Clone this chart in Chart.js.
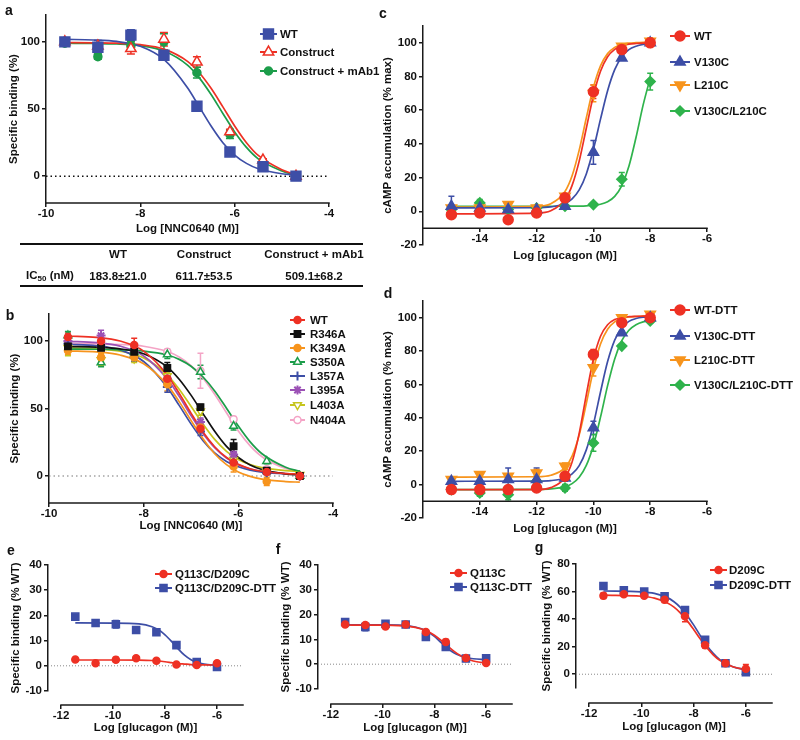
<!DOCTYPE html>
<html>
<head>
<meta charset="utf-8">
<script src="https://cdn.jsdelivr.net/npm/chart.js@4.4.1/dist/chart.umd.min.js"></script>
<style>
  html, body { margin: 0; padding: 0; background: #fff; }
  #fig { position: relative; width: 800px; height: 740px; overflow: hidden;
         font-family: "Liberation Sans", Arial, sans-serif; font-weight: bold; color: #111; }
  #fig canvas { position: absolute; }
  .lt { position: absolute; font-size: 14px; transform: translate(-50%, -50%); }
  .rule { position: absolute; left: 20px; width: 343px; border-top: 2px solid #111; }
  .tc { position: absolute; font-size: 11.5px; transform: translate(-50%, -50%); white-space: nowrap; }
  .tc sub { font-size: 8px; vertical-align: -2px; }
</style>
</head>
<body>
<div id="fig">
  <canvas id="ca" width="400" height="245" style="left:0;top:0"></canvas>
  <canvas id="cb" width="400" height="240" style="left:0;top:300px"></canvas>
  <canvas id="cc" width="430" height="270" style="left:370px;top:0"></canvas>
  <canvas id="cd" width="430" height="270" style="left:370px;top:280px"></canvas>
  <canvas id="ce" width="290" height="185" style="left:0;top:555px"></canvas>
  <canvas id="cf" width="280" height="185" style="left:270px;top:555px"></canvas>
  <canvas id="cg" width="272" height="185" style="left:528px;top:555px"></canvas>

  <div class="lt" style="left:9px;top:10px">a</div>
  <div class="lt" style="left:10px;top:315px">b</div>
  <div class="lt" style="left:383px;top:13px">c</div>
  <div class="lt" style="left:388px;top:293px">d</div>
  <div class="lt" style="left:11px;top:550px">e</div>
  <div class="lt" style="left:278px;top:549px">f</div>
  <div class="lt" style="left:539px;top:547px">g</div>

  <div class="rule" style="top:243px"></div>
  <div class="rule" style="top:285px"></div>
  <div id="tbl"></div>
</div>

<script>
// ---- data ----

// x values (log M) of the measured points
const logNNC = [-9.6, -8.9, -8.2, -7.5, -6.8, -6.1, -5.4, -4.7];
const logGcgC = [-15, -14, -13, -12, -11, -10, -9, -8];
const logGcgE = [-11.45, -10.67, -9.89, -9.11, -8.33, -7.56, -6.78, -6.0];

// x positions where the fitted curves were read
const fitA = [-9.6, -9, -8.5, -8, -7.5, -7, -6.75, -6.5, -6.25, -6, -5.75, -5.5, -5, -4.7];
const fitB = [-9.6, -9, -8.5, -8, -7.5, -7.25, -7, -6.75, -6.5, -6.25, -6, -5.75, -5.5, -5, -4.7];
const fitC = [-15, -12, -11.5, -11, -10.75, -10.5, -10.25, -10, -9.75, -9.5, -9.25, -9, -8.75, -8.5, -8.25, -8];
const fitE = [-11.45, -10, -9, -8.5, -8.25, -8, -7.75, -7.5, -7.25, -7, -6.75, -6.5, -6];
const fitG = [-11.45, -10, -9.5, -9, -8.75, -8.5, -8.25, -8, -7.75, -7.5, -7.25, -7, -6.5, -6];

// panel a
const aWT = [100, 96, 105, 90, 52, 18, 7, 0];
const aWTErr = [1, 5, 4, 2, 3, 1, 1, 0.5];
const aCon = [100, 97, 95, 102, 85, 33, 12, 0];
const aConErr = [1, 2, 4, 5, 4, 2, 1, 0.5];
const aMab = [99, 89, 97, 100, 77, 31, 8, 0];
const aMabErr = [1, 2, 3, 6, 4, 3, 1, 0.5];
const aWTFit = [101.9, 101.4, 100.3, 96.7, 86.9, 65.8, 51.6, 37.3, 24.9, 15.7, 9.5, 5.5, 1.8, 0.9];
const aConFit = [99.5, 99.3, 99.0, 97.9, 94.6, 85.5, 77.0, 65.4, 51.6, 37.4, 24.9, 15.4, 4.8, 1.0];
const aMabFit = [99, 98.8, 98.4, 97.1, 93.2, 82.7, 73.2, 60.8, 46.7, 32.9, 21.4, 12.9, 3.9, 0.6];

// table under panel a
const tableCols = ['WT', 'Construct', 'Construct + mAb1'];
const tableIC50 = ['183.8±21.0', '611.7±53.5', '509.1±68.2'];

// panel b
const bNames = ['WT', 'R346A', 'K349A', 'S350A', 'L357A', 'L395A', 'L403A', 'N404A'];
const bWT = [103, 100, 97, 72, 35, 10, 3, 0];
const bR346A = [96, 95, 92, 80, 51, 22, 4, 0];
const bK349A = [93, 88, 88, 68, 36, 7, -4, 0];
const bS350A = [104, 84, 92, 90, 77, 37, 11, 0];
const bL357A = [98, 96, 88, 66, 33, 10, 2, 0];
const bL395A = [100, 104, 92, 72, 40, 16, 3, 0];
const bL403A = [95, 86, 87, 74, 48, 12, 3, 1];
const bN404A = [99, 98, 96, 92, 78, 42, 5, 0];
const bWTErr = [3, 3, 5, 4, 3, 2, 1, 1];
const bR346AErr = [2, 2, 2, 4, 2, 5, 1, 1];
const bK349AErr = [3, 3, 3, 5, 3, 4, 3, 1];
const bS350AErr = [3, 3, 2, 3, 5, 3, 2, 1];
const bL357AErr = [2, 3, 3, 4, 3, 2, 1, 1];
const bL395AErr = [2, 4, 2, 3, 3, 2, 1, 1];
const bL403AErr = [6, 4, 3, 3, 3, 2, 1, 1];
const bN404AErr = [2, 2, 2, 2, 13, 2, 1, 1];
const bWTFit = [103.7, 102.7, 100, 92.5, 74.7, 61.3, 46.6, 32.8, 21.7, 13.7, 8.6, 5.4, 3.5, 1.8, 1.4];
const bR346AFit = [95.9, 95.4, 94.2, 90.6, 80.7, 71.7, 59.9, 46.4, 33.1, 21.9, 13.7, 8.2, 4.8, 1.6, 0.8];
const bK349AFit = [92.7, 91.9, 89.6, 83.1, 67.3, 55.1, 41.2, 27.7, 16.5, 8.4, 3.0, -0.3, -2.3, -4.1, -4.6];
const bS350AFit = [94, 93.9, 93.5, 92.5, 89.6, 86.4, 81.3, 73.5, 63, 50.2, 37.0, 25.3, 16.5, 6.5, 3.4];
const bL357AFit = [97.6, 96.5, 93.4, 84.8, 65.6, 52.3, 38.6, 26.4, 17.1, 10.8, 6.8, 4.3, 2.9, 1.6, 1.3];
const bL395AFit = [99.7, 98.8, 96.2, 88.9, 71.8, 59.0, 44.8, 31.6, 20.9, 13.3, 8.3, 5.2, 3.4, 1.8, 1.4];
const bL403AFit = [94.8, 94.2, 92.5, 87.5, 74.8, 64.3, 51.6, 38.7, 27.1, 18.3, 12.3, 8.5, 6.2, 4.0, 3.5];
const bN404AFit = [98, 97.8, 97.4, 96.1, 92.2, 88.2, 81.8, 72.6, 60.5, 46.8, 33.3, 22.3, 14.3, 5.6, 3.4];

// panel c
const cWT = [-2, -1, -5, -1, 8, 71, 96, 100];
const cV130C = [3, 2, 1, 1, 3, 35, 91, 100];
const cL210C = [2, 2, 4, 2, 9, 70, 98, 101];
const cDouble = [1, 5, 1, 2, 3, 4, 19, 77];
const cWTErr = [2, 2, 1, 1, 1, 4, 1, 1];
const cV130CErr = [6, 2, 2, 2, 1, 7, 1, 1];
const cL210CErr = [1, 1, 1, 1, 1, 5, 1, 2];
const cDoubleErr = [1, 2, 1, 1, 1, 1, 4, 5];
const cWTFit = [-1.5, -1.1, 0.3, 6.8, 15.4, 29.8, 49.3, 68.6, 83.1, 91.7, 96.1, 98.2, 99.2, 99.6, 99.8, 99.9];
const cV130CFit = [2, 2.1, 2.6, 4.6, 7.4, 12.7, 22.2, 36.8, 54.7, 71.6, 84.1, 91.8, 96.0, 98.0, 99.1, 99.6];
const cL210CFit = [2.5, 2.9, 4.5, 11.8, 21.1, 36.3, 55.4, 73.5, 86.3, 93.6, 97.3, 99.0, 99.8, 100.1, 100.3, 100.4];
const cDoubleFit = [3, 3, 3, 3, 3.05, 3.1, 3.25, 3.6, 4.2, 5.7, 8.9, 15.3, 26.7, 43.8, 63, 79.1];

// panel d
const dWT = [-3, -3, -3, -2, 5, 78, 97, 100];
const dV130C = [2, 2, 3, 3, 4, 34, 91, 100];
const dL210C = [3, 6, 5, 7, 11, 70, 100, 102];
const dDouble = [-3, -5, -6, 2, -2, 25, 83, 98];
const dWTErr = [1, 1, 1, 2, 2, 3, 1, 1];
const dV130CErr = [1, 1, 7, 7, 2, 4, 1, 1];
const dL210CErr = [1, 1, 1, 2, 2, 5, 1, 1];
const dDoubleErr = [1, 2, 3, 3, 2, 5, 1, 1];
const dWTFit = [-3, -3, -1.8, 4.3, 13.6, 30.7, 53.8, 75.1, 88.9, 95.8, 98.9, 100.1, 100.6, 100.8, 100.9, 101];
const dV130CFit = [2, 2.1, 2.4, 4.0, 6.4, 11.4, 20.8, 36.1, 55.5, 73.7, 86.6, 94, 97.8, 99.5, 100.3, 100.6];
const dL210CFit = [4.5, 4.7, 5.6, 10.2, 17.1, 29.8, 48.6, 68.8, 84.2, 93.1, 97.5, 99.5, 100.4, 100.7, 100.9, 101];
const dDoubleFit = [-3, -2.9, -2.6, -1.2, 0.6, 4.4, 11.5, 23.5, 40.4, 59.3, 75.3, 86.2, 92.5, 95.8, 97.5, 98.3];

// panel e
const eOx = [2.5, 1, 2.4, 3, 2, 0.5, 0.3, 1];
const eOxErr = [0.3, 0.3, 1, 0.3, 0.3, 0.3, 0.3, 0.5];
const eDtt = [19.5, 17, 16.5, 14.2, 13.3, 8.2, 1.5, -0.5];
const eDttErr = [0.3, 0.5, 1.5, 0.3, 0.5, 1, 0.3, 0.3];
const eOxFit = [2.3, 2.3, 2.25, 2.1, 1.9, 1.6, 1.25, 0.9, 0.7, 0.5, 0.4, 0.35, 0.3];
const eDttFit = [17, 16.97, 16.6, 15.5, 14.3, 12.3, 9.7, 6.8, 4.2, 2.4, 1.3, 0.68, 0.18];

// panel f
const fOx = [16, 15.8, 15.2, 16, 13, 9, 2.5, 0.5];
const fOxErr = [0.5, 0.8, 0.8, 0.5, 0.8, 1, 0.3, 0.3];
const fDtt = [17, 15, 16.3, 16, 11, 7, 2.3, 2.4];
const fDttErr = [1.2, 1.5, 1, 1, 1.2, 0.8, 0.3, 1];
const fOxFit = [15.8, 15.74, 15.26, 14.2, 13.2, 11.7, 9.7, 7.45, 5.3, 3.5, 2.2, 1.3, 0.43];
const fDttFit = [15.9, 15.87, 15.47, 14.3, 13.1, 11.2, 8.85, 6.5, 4.6, 3.4, 2.6, 2.2, 1.9];

// panel g
const gOx = [57, 58, 57, 54, 42, 21, 8, 4];
const gOxErr = [2, 1, 1, 2, 4, 2, 1, 3];
const gDtt = [64, 61, 60, 56.5, 46.5, 25, 8, 1.5];
const gDttErr = [1, 1, 1, 1, 1.5, 2, 0.5, 1.5];
const gOxFit = [57.45, 56.6, 55.2, 51.7, 48.7, 44.4, 38.9, 32.5, 25.7, 19.4, 14.1, 10.1, 5.4, 3.3];
const gDttFit = [60.4, 59.8, 58.7, 55.6, 52.6, 48.4, 42.7, 35.8, 28.2, 21.1, 15.1, 10.6, 5.4, 3.2];

// tick labels
const xTicksNNC = [-10, -8, -6, -4];
const yTicksBind = [0, 50, 100];
const xTicksGcg = [-14, -12, -10, -8, -6];
const yTicksCamp = [-20, 0, 20, 40, 60, 80, 100];
const xTicksE = [-12, -10, -8, -6];
const yTicksE = [-10, 0, 10, 20, 30, 40];
const yTicksG = [0, 20, 40, 60, 80];

// ---- styling ----
Chart.defaults.font.family = 'Liberation Sans, Arial, sans-serif';
Chart.defaults.font.weight = 'bold';
Chart.defaults.color = '#111';
const FONT = { size: 11.5, weight: 'bold' };
const LEGEND_FONT = 'bold 11.5px "Liberation Sans", Arial, sans-serif';
const AXIS = '#1a1a1a';

const RED = '#ee3124', BLUE = '#3d4ea6', GREEN = '#1c9d4a', ORANGE = '#f7941d', LGREEN = '#2fb34c';
const BLACK = '#111111', PURPLE = '#9b51b5', YELLOW = '#c6c51d', PINK = '#f4a4c6';

// table
const colX = [118, 204, 314];
const tbl = document.getElementById('tbl');
tableCols.forEach((t, i) => {
  tbl.insertAdjacentHTML('beforeend', `<div class="tc" style="left:${colX[i]}px;top:254px">${t}</div>`);
  tbl.insertAdjacentHTML('beforeend', `<div class="tc" style="left:${colX[i]}px;top:276px">${tableIC50[i]}</div>`);
});
tbl.insertAdjacentHTML('beforeend', '<div class="tc" style="left:50px;top:276px">IC<sub>50</sub> (nM)</div>');

function pts(xs, ys) {
  return xs.map((x, i) => ({ x: x, y: ys[i] }));
}

// one fitted curve + its measured points
function series(label, color, shape, px, py, err, cx, cy) {
  return [
    { label: label + ' fit', data: pts(cx, cy), showLine: true, borderColor: color, borderWidth: 1.7,
      pointRadius: 0, cubicInterpolationMode: 'monotone', fill: false, order: 2 },
    { label: label, data: pts(px, py), err: err, showLine: false, pointStyle: shape.style,
      pointRadius: shape.r, pointRotation: shape.rot || 0,
      pointBackgroundColor: shape.open ? '#ffffff' : color, pointBorderColor: color,
      pointBorderWidth: shape.bw || 1.5, borderColor: color, backgroundColor: color, order: 1 }
  ];
}

// axis line, zero line, error bars and legend, Prism style
const prism = {
  id: 'prism',
  beforeDatasetsDraw(chart, args, o) {
    const ctx = chart.ctx, xs = chart.scales.x, ys = chart.scales.y;
    ctx.save();
    if (o.zero) {
      ctx.strokeStyle = o.zero.color;
      ctx.lineWidth = o.zero.width;
      ctx.setLineDash(o.zero.dash);
      const y0 = ys.getPixelForValue(0);
      ctx.beginPath();
      ctx.moveTo(xs.getPixelForValue(o.zero.from), y0);
      ctx.lineTo(xs.getPixelForValue(o.zero.to), y0);
      ctx.stroke();
      ctx.setLineDash([]);
    }
    chart.data.datasets.forEach(ds => {
      if (!ds.err) return;
      ctx.strokeStyle = ds.pointBorderColor;
      ctx.lineWidth = 1.5;
      ds.data.forEach((p, i) => {
        const e = ds.err[i];
        if (!e) return;
        const px = xs.getPixelForValue(p.x);
        const y1 = ys.getPixelForValue(p.y - e), y2 = ys.getPixelForValue(p.y + e);
        ctx.beginPath();
        ctx.moveTo(px, y1); ctx.lineTo(px, y2);
        ctx.moveTo(px - o.cap, y1); ctx.lineTo(px + o.cap, y1);
        ctx.moveTo(px - o.cap, y2); ctx.lineTo(px + o.cap, y2);
        ctx.stroke();
      });
    });
    ctx.restore();
  },
  afterDraw(chart, args, o) {
    const ctx = chart.ctx, xs = chart.scales.x, ys = chart.scales.y;
    ctx.save();
    // x axis line
    const ya = ys.getPixelForValue(o.xAt);
    ctx.strokeStyle = AXIS;
    ctx.lineWidth = 1.5;
    ctx.beginPath();
    ctx.moveTo(xs.getPixelForValue(o.xLine[0]) - 0.75, ya);
    ctx.lineTo(xs.getPixelForValue(o.xLine[1]) + 0.75, ya);
    ctx.stroke();
    // legend: line with marker in the middle, then the name
    const lg = o.legend;
    lg.ys.forEach((y, k) => {
      const ds = chart.data.datasets[2 * k + 1];
      ctx.strokeStyle = ds.pointBorderColor;
      ctx.lineWidth = 2;
      ctx.beginPath();
      ctx.moveTo(lg.x0, y); ctx.lineTo(lg.x1, y);
      ctx.stroke();
      ctx.fillStyle = ds.pointBackgroundColor;
      ctx.lineWidth = ds.pointBorderWidth;
      Chart.helpers.drawPoint(ctx, { pointStyle: ds.pointStyle, rotation: ds.pointRotation,
        radius: ds.pointRadius, borderWidth: ds.pointBorderWidth }, (lg.x0 + lg.x1) / 2, y);
      ctx.fillStyle = '#111';
      ctx.font = LEGEND_FONT;
      ctx.textAlign = 'left';
      ctx.textBaseline = 'middle';
      ctx.fillText(ds.label, lg.tx, y + 0.5);
    });
    ctx.restore();
  }
};

function makePanel(id, P) {
  return new Chart(document.getElementById(id), {
    type: 'scatter',
    data: { datasets: P.datasets },
    plugins: [prism],
    options: {
      responsive: false,
      animation: false,
      devicePixelRatio: 1,
      layout: { padding: P.pad },
      plugins: {
        legend: { display: false },
        tooltip: { enabled: false },
        prism: { xAt: P.xAt, xLine: P.xLine, zero: P.zero, legend: P.legend, cap: P.cap }
      },
      scales: {
        x: {
          type: 'linear', position: { y: P.xAt }, min: P.xMin, max: P.xMax,
          afterBuildTicks: s => { s.ticks = P.xTicks.map(v => ({ value: v })); },
          afterFit: s => { s.height = P.xH; },
          grid: { drawOnChartArea: false, tickLength: 4, color: AXIS, lineWidth: 1.5 },
          border: { display: false },
          ticks: { font: FONT, color: '#111', padding: 0, maxRotation: 0, autoSkip: false },
          title: { display: true, text: P.xTitle, font: FONT, color: '#111', padding: 0 }
        },
        y: {
          type: 'linear', position: 'left', min: P.yMin, max: P.yMax,
          afterBuildTicks: s => { s.ticks = P.yTicks.map(v => ({ value: v })); },
          afterFit: s => { s.width = P.yW; },
          grid: { drawOnChartArea: false, tickLength: 4, color: AXIS, lineWidth: 1.5 },
          border: { display: true, color: AXIS, width: 1.5 },
          ticks: { font: FONT, color: '#111', padding: 2 },
          title: { display: true, text: P.yTitle, font: FONT, color: '#111', padding: { top: P.yTitlePad, bottom: 0 } }
        }
      }
    }
  });
}

// a
makePanel('ca', {
  datasets: [].concat(
    series('WT', BLUE, { style: 'rect', r: 7 }, logNNC, aWT, aWTErr, fitA, aWTFit),
    series('Construct', RED, { style: 'triangle', r: 6, open: true }, logNNC, aCon, aConErr, fitA, aConFit),
    series('Construct + mAb1', GREEN, { style: 'circle', r: 4 }, logNNC, aMab, aMabErr, fitA, aMabFit)
  ),
  pad: { left: 0, top: 15, right: 71, bottom: 42 }, yW: 46, yTitlePad: 7, xH: 33,
  xMin: -10, xMax: -4, yMin: -20, yMax: 120, xAt: -20, xLine: [-10, -4],
  xTicks: xTicksNNC, yTicks: yTicksBind, cap: 4,
  xTitle: 'Log [NNC0640 (M)]', yTitle: 'Specific binding (%)',
  zero: { from: -10, to: -4, color: '#111', width: 1.5, dash: [1.5, 3] },
  legend: { x0: 260, x1: 277, tx: 280, ys: [34, 52, 71] }
});

// b
makePanel('cb', {
  datasets: [].concat(
    series(bNames[0], RED, { style: 'circle', r: 3.5 }, logNNC, bWT, bWTErr, fitB, bWTFit),
    series(bNames[1], BLACK, { style: 'rect', r: 4.5 }, logNNC, bR346A, bR346AErr, fitB, bR346AFit),
    series(bNames[2], ORANGE, { style: 'circle', r: 3.5 }, logNNC, bK349A, bK349AErr, fitB, bK349AFit),
    series(bNames[3], GREEN, { style: 'triangle', r: 4.5, open: true }, logNNC, bS350A, bS350AErr, fitB, bS350AFit),
    series(bNames[4], BLUE, { style: 'cross', r: 4.5, bw: 2 }, logNNC, bL357A, bL357AErr, fitB, bL357AFit),
    series(bNames[5], PURPLE, { style: 'star', r: 4.5, bw: 2 }, logNNC, bL395A, bL395AErr, fitB, bL395AFit),
    series(bNames[6], YELLOW, { style: 'triangle', r: 4.5, open: true, rot: 180 }, logNNC, bL403A, bL403AErr, fitB, bL403AFit),
    series(bNames[7], PINK, { style: 'circle', r: 3.5, open: true }, logNNC, bN404A, bN404AErr, fitB, bN404AFit)
  ),
  pad: { left: 0, top: 14, right: 67, bottom: 37 }, yW: 49, yTitlePad: 8, xH: 30,
  xMin: -10, xMax: -4, yMin: -20, yMax: 120, xAt: -20, xLine: [-10, -4],
  xTicks: xTicksNNC, yTicks: yTicksBind, cap: 3,
  xTitle: 'Log [NNC0640 (M)]', yTitle: 'Specific binding (%)',
  zero: { from: -10, to: -4, color: '#777', width: 1.2, dash: [1.5, 3] },
  legend: { x0: 290, x1: 305, tx: 310, ys: [20, 34, 48, 62, 76, 90, 105, 120] }
});

// c
makePanel('cc', {
  datasets: [].concat(
    series('WT', RED, { style: 'circle', r: 5 }, logGcgC, cWT, cWTErr, fitC, cWTFit),
    series('V130C', BLUE, { style: 'triangle', r: 6 }, logGcgC, cV130C, cV130CErr, fitC, cV130CFit),
    series('L210C', ORANGE, { style: 'triangle', r: 6, rot: 180 }, logGcgC, cL210C, cL210CErr, fitC, cL210CFit),
    series('V130C/L210C', LGREEN, { style: 'rectRot', r: 5 }, logGcgC, cDouble, cDoubleErr, fitC, cDoubleFit)
  ),
  pad: { left: 0, top: 26, right: 93, bottom: 25 }, yW: 53, yTitlePad: 11, xH: 35,
  xMin: -16, xMax: -6, yMin: -20, yMax: 110, xAt: -10, xLine: [-16, -6],
  xTicks: xTicksGcg, yTicks: yTicksCamp, cap: 3,
  xTitle: 'Log [glucagon (M)]', yTitle: 'cAMP accumulation (% max)',
  legend: { x0: 300, x1: 320, tx: 324, ys: [36, 62, 85, 111] }
});

// d
makePanel('cd', {
  datasets: [].concat(
    series('WT-DTT', RED, { style: 'circle', r: 5 }, logGcgC, dWT, dWTErr, fitC, dWTFit),
    series('V130C-DTT', BLUE, { style: 'triangle', r: 6 }, logGcgC, dV130C, dV130CErr, fitC, dV130CFit),
    series('L210C-DTT', ORANGE, { style: 'triangle', r: 6, rot: 180 }, logGcgC, dL210C, dL210CErr, fitC, dL210CFit),
    series('V130C/L210C-DTT', LGREEN, { style: 'rectRot', r: 5 }, logGcgC, dDouble, dDoubleErr, fitC, dDoubleFit)
  ),
  pad: { left: 0, top: 21, right: 93, bottom: 32 }, yW: 53, yTitlePad: 11, xH: 34,
  xMin: -16, xMax: -6, yMin: -20, yMax: 110, xAt: -10, xLine: [-16, -6],
  xTicks: xTicksGcg, yTicks: yTicksCamp, cap: 3,
  xTitle: 'Log [glucagon (M)]', yTitle: 'cAMP accumulation (% max)',
  legend: { x0: 300, x1: 320, tx: 324, ys: [30, 56, 80, 105] }
});

// e
makePanel('ce', {
  datasets: [].concat(
    series('Q113C/D209C', RED, { style: 'circle', r: 3.5 }, logGcgE, eOx, eOxErr, fitE, eOxFit),
    series('Q113C/D209C-DTT', BLUE, { style: 'rect', r: 5 }, logGcgE, eDtt, eDttErr, fitE, eDttFit)
  ),
  pad: { left: 0, top: 10, right: 47, bottom: 49 }, yW: 48, yTitlePad: 9, xH: 30,
  xMin: -12.5, xMax: -5, yMin: -10, yMax: 40, xAt: -15.56, xLine: [-12, -5],
  xTicks: xTicksE, yTicks: yTicksE, cap: 3,
  xTitle: 'Log [glucagon (M)]', yTitle: 'Specific binding (% WT)',
  zero: { from: -12.5, to: -5, color: '#888', width: 1, dash: [1, 2] },
  legend: { x0: 155, x1: 172, tx: 175, ys: [19, 33] }
});

// f
makePanel('cf', {
  datasets: [].concat(
    series('Q113C', RED, { style: 'circle', r: 3.5 }, logGcgE, fOx, fOxErr, fitE, fOxFit),
    series('Q113C-DTT', BLUE, { style: 'rect', r: 5 }, logGcgE, fDtt, fDttErr, fitE, fDttFit)
  ),
  pad: { left: 0, top: 10, right: 38, bottom: 51 }, yW: 48, yTitlePad: 9, xH: 31,
  xMin: -12.5, xMax: -5, yMin: -10, yMax: 40, xAt: -16.05, xLine: [-12, -5],
  xTicks: xTicksE, yTicks: yTicksE, cap: 3,
  xTitle: 'Log [glucagon (M)]', yTitle: 'Specific binding (% WT)',
  zero: { from: -12.5, to: -5, color: '#888', width: 1, dash: [1, 2] },
  legend: { x0: 180, x1: 197, tx: 200, ys: [18, 32] }
});

// g
makePanel('cg', {
  datasets: [].concat(
    series('D209C', RED, { style: 'circle', r: 3.5 }, logGcgE, gOx, gOxErr, fitG, gOxFit),
    series('D209C-DTT', BLUE, { style: 'rect', r: 5 }, logGcgE, gDtt, gDttErr, fitG, gDttFit)
  ),
  pad: { left: 0, top: 9, right: 28, bottom: 52 }, yW: 48, yTitlePad: 12, xH: 31,
  xMin: -12.5, xMax: -5, yMin: -10, yMax: 80, xAt: -20.9, xLine: [-12, -5],
  xTicks: xTicksE, yTicks: yTicksG, cap: 3,
  xTitle: 'Log [glucagon (M)]', yTitle: 'Specific binding (% WT)',
  zero: { from: -12.5, to: -5, color: '#888', width: 1, dash: [1, 2] },
  legend: { x0: 182, x1: 199, tx: 201, ys: [15, 30] }
});
</script>
</body>
</html>
